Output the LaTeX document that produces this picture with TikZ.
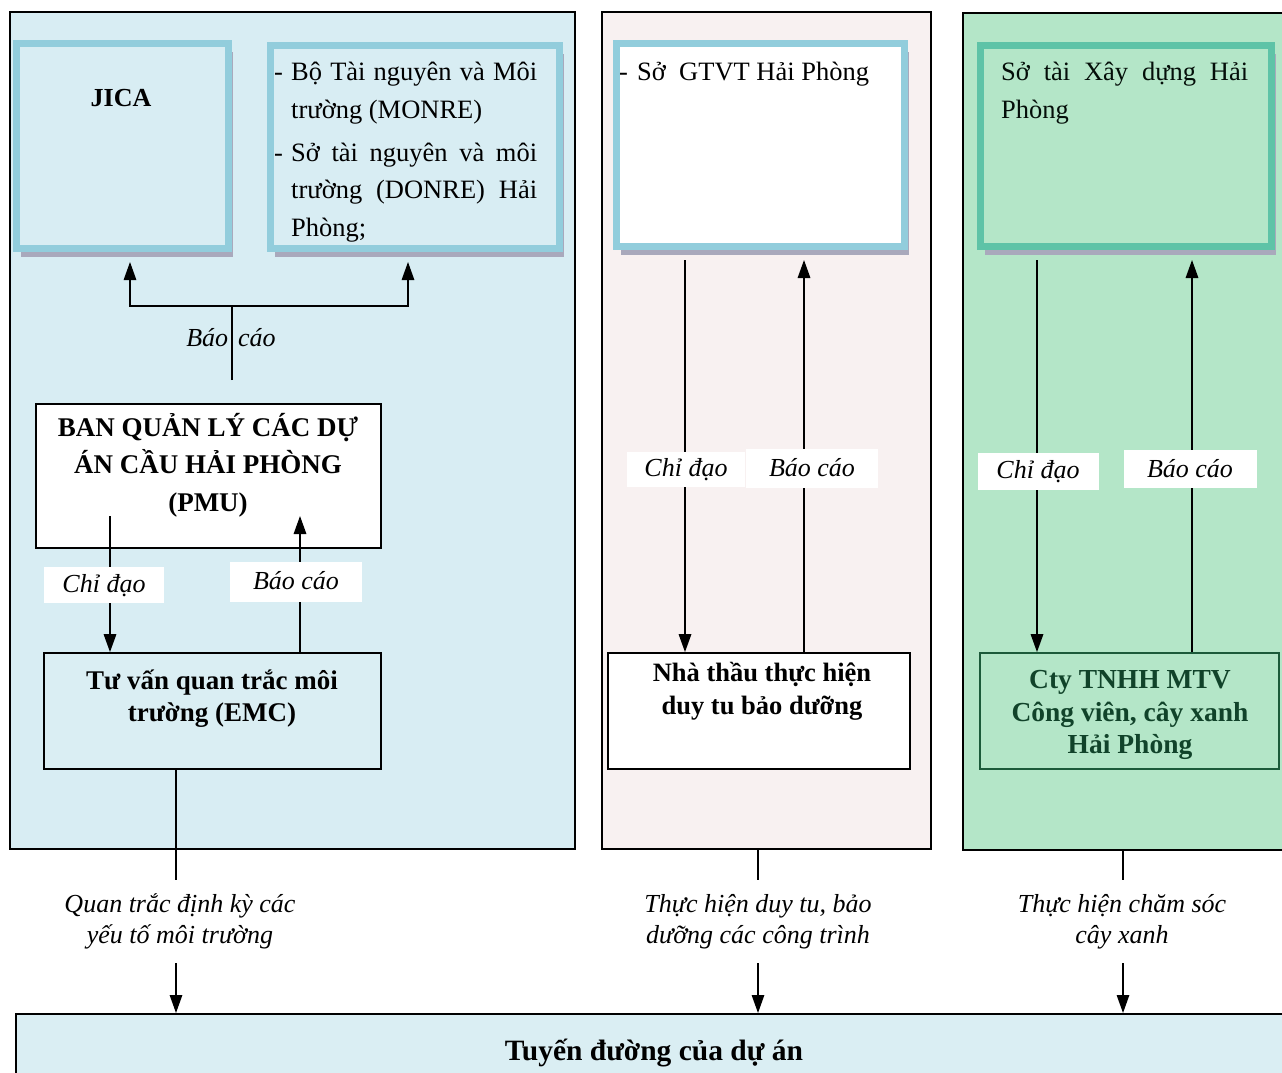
\documentclass[tikz,border=0pt]{standalone}
\usepackage{fontspec}
\setmainfont{Liberation Serif}
\usetikzlibrary{arrows.meta,shadows}

\definecolor{panelblue}{HTML}{D8EDF3}
\definecolor{panelpink}{HTML}{F8F1F1}
\definecolor{panelgreen}{HTML}{B4E6C8}
\definecolor{frameblue}{HTML}{92CDDC}
\definecolor{frameteal}{HTML}{5EC3A7}
\definecolor{shadowgray}{HTML}{A9A9BC}
\definecolor{emcblue}{HTML}{DAEEF3}
\definecolor{darkgreen}{HTML}{1C5A3A}
\definecolor{textgreen}{HTML}{11432A}

\begin{document}
\begin{tikzpicture}[x=1pt,y=-1pt,
  panel/.style={draw=black, line width=1.8pt, inner sep=0pt, anchor=north west},
  framebox/.style={line width=7pt, inner sep=0pt,
    drop shadow={shadow xshift=4pt, shadow yshift=-8pt, fill=shadowgray, opacity=1}},
  unitbox/.style={draw=black, line width=1.8pt, inner sep=0pt},
  tagbox/.style={fill=white, inner sep=0pt},
  plain/.style={font=\fontsize{26.5}{38}\selectfont, inner sep=0pt},
  strong/.style={font=\fontsize{27}{33}\selectfont\bfseries, inner sep=0pt, align=center},
  tag/.style={font=\fontsize{26}{31}\selectfont\itshape, inner sep=0pt},
  note/.style={font=\fontsize{26}{31}\selectfont\itshape, inner sep=0pt, align=center, minimum height=83pt},
  link/.style={draw=black, line width=1.6pt},
  arr/.style={link, -{Triangle[length=18pt,width=12.5pt]}}
]
\clip (0,0) rectangle (1282,1072);
\fill[white] (0,0) rectangle (1282,1072);

% three columns
\node[panel, fill=panelblue, minimum width=565pt, minimum height=837pt] (p1) at (9,11) {};
\node[panel, fill=panelpink, minimum width=329pt, minimum height=837pt] (p2) at (601,11) {};
\node[panel, fill=panelgreen, minimum width=360pt, minimum height=837pt] (p3) at (962,12) {};

% upper authorities
\node[framebox, draw=frameblue, fill=panelblue, minimum width=212pt, minimum height=205pt] (jica) at (122.5,146) {};
\node[font=\fontsize{26}{30}\selectfont\bfseries, inner sep=0pt] (jicat) at (121,98) {JICA};

\node[framebox, draw=frameblue, fill=panelblue, minimum width=289pt, minimum height=203pt] (monre) at (415,147) {};
\node[plain, anchor=base west] (b1) at (274,80) {-};
\node[plain, anchor=base west] (m1) at (291,80) {\makebox[246pt][s]{Bộ Tài nguyên và Môi}};
\node[plain, anchor=base west] (m2) at (291,118) {trường (MONRE)};
\node[plain, anchor=base west] (b2) at (274,161) {-};
\node[plain, anchor=base west] (m3) at (291,161) {\makebox[246pt][s]{Sở tài nguyên và môi}};
\node[plain, anchor=base west] (m4) at (291,198) {\makebox[246pt][s]{trường (DONRE) Hải}};
\node[plain, anchor=base west] (m5) at (291,236) {Phòng;};

\node[framebox, draw=frameblue, fill=white, minimum width=288pt, minimum height=203pt] (gtvt) at (760.5,145) {};
\node[plain, anchor=base west] (b3) at (619,80) {-};
\node[plain, anchor=base west] (g1) at (637,80) {Sở\ \ GTVT Hải Phòng};

\node[framebox, draw=frameteal, fill=panelgreen, minimum width=291pt, minimum height=201pt] (sxd) at (1126,146) {};
\node[plain, anchor=base west, text=black!85!darkgreen] (x1) at (1001,80) {\makebox[247pt][s]{Sở tài Xây dựng Hải}};
\node[plain, anchor=base west, text=black!85!darkgreen] (x2) at (1001,118) {Phòng};

% operating units
\node[unitbox, fill=white, minimum width=345pt, minimum height=144pt] (pmu) at (208.5,476) {};
\node[strong, font=\fontsize{27}{37.5}\selectfont\bfseries] (pmut) at (208,465) {BAN QUẢN LÝ CÁC DỰ\\ÁN CẦU HẢI PHÒNG\\(PMU)};

\node[unitbox, fill=emcblue, minimum width=337pt, minimum height=116pt] (emc) at (212.5,711) {};
\node[strong, font=\fontsize{27}{32}\selectfont\bfseries] (emct) at (212,699) {Tư vấn quan trắc môi\\trường (EMC)};

\node[unitbox, fill=white, minimum width=302pt, minimum height=116pt] (ntd) at (759,711) {};
\node[strong, font=\fontsize{26.5}{33}\selectfont\bfseries] (ntdt) at (762,691) {Nhà thầu thực hiện\\duy tu bảo dưỡng};

\node[unitbox, draw=darkgreen, fill=panelgreen, minimum width=299pt, minimum height=116pt] (cty) at (1129.5,711) {};
\node[strong, font=\fontsize{27.5}{32.5}\selectfont\bfseries, text=textgreen] (ctyt) at (1130,715) {Cty TNHH MTV\\Công viên, cây xanh\\Hải Phòng};

% project route
\node[unitbox, fill=emcblue, anchor=north west, minimum width=1300pt, minimum height=100pt] (route) at (15,1013) {};
\node[font=\fontsize{29.5}{34}\selectfont\bfseries, inner sep=0pt] (routet) at (654,1053) {Tuyến đường của dự án};

% reporting to JICA and MONRE
\coordinate (r0) at (232,380);
\coordinate (rj) at (232,306);
\coordinate (ja) at (130,262);
\coordinate (ma) at (408,262);
\draw[link, line width=1.3pt] (r0) -- (rj);
\draw[arr, line width=1.3pt] (rj) -| (ja);
\draw[arr, line width=1.3pt] (rj) -| (ma);
\node[tag] (rt) at (231,338) {Báo\hspace{10pt}cáo};

% PMU <-> EMC
\coordinate (pc) at (110,516);
\coordinate (pb) at (300,516);
\draw[arr] (pc) -- (pc |- emc.north);
\draw[arr] (pb |- emc.north) -- (pb);
\node[tagbox, minimum width=120pt, minimum height=36pt] (pct) at (104,585) {};
\node[tag] (pctt) at (104,586) {Chỉ đạo};
\node[tagbox, minimum width=132pt, minimum height=40pt] (pbt) at (296,582) {};
\node[tag] (pbtt) at (296,581) {Báo cáo};

% GTVT <-> contractor
\coordinate (gc) at (685,260);
\coordinate (gb) at (804,260);
\draw[arr] (gc) -- (gc |- ntd.north);
\draw[arr] (gb |- ntd.north) -- (gb);
\node[tagbox, minimum width=118pt, minimum height=35pt] (gct) at (686,469.5) {};
\node[tag] (gctt) at (686,470) {Chỉ đạo};
\node[tagbox, minimum width=132pt, minimum height=39pt] (gbt) at (812,468.5) {};
\node[tag] (gbtt) at (812,468) {Báo cáo};

% Department of Construction <-> parks company
\coordinate (xc) at (1037,260);
\coordinate (xb) at (1192,260);
\draw[arr] (xc) -- (xc |- cty.north);
\draw[arr] (xb |- cty.north) -- (xb);
\node[tagbox, minimum width=121pt, minimum height=37pt] (xct) at (1038.5,471.5) {};
\node[tag] (xctt) at (1038,472) {Chỉ đạo};
\node[tagbox, minimum width=133pt, minimum height=38pt] (xbt) at (1190.5,469) {};
\node[tag] (xbtt) at (1190,469) {Báo cáo};

% tasks on the route
\node[note] (n1) at (180,921.5) {Quan trắc định kỳ các\\yếu tố môi trường};
\node[note] (n2) at (758,921.5) {Thực hiện duy tu, bảo\\dưỡng các công trình};
\node[note] (n3) at (1122,921.5) {Thực hiện chăm sóc\\cây xanh};
\coordinate (e1) at (176,769);
\coordinate (e2) at (758,848);
\coordinate (e3) at (1123,849);
\draw[link, line width=1.3pt] (e1) -- (e1 |- n1.north);
\draw[link, line width=1.3pt] (e2) -- (e2 |- n2.north);
\draw[link, line width=1.3pt] (e3) -- (e3 |- n3.north);
\draw[arr, line width=1.3pt] (e1 |- n1.south) -- (e1 |- route.north);
\draw[arr, line width=1.3pt] (e2 |- n2.south) -- (e2 |- route.north);
\draw[arr, line width=1.3pt] (e3 |- n3.south) -- (e3 |- route.north);
\end{tikzpicture}
\end{document}
